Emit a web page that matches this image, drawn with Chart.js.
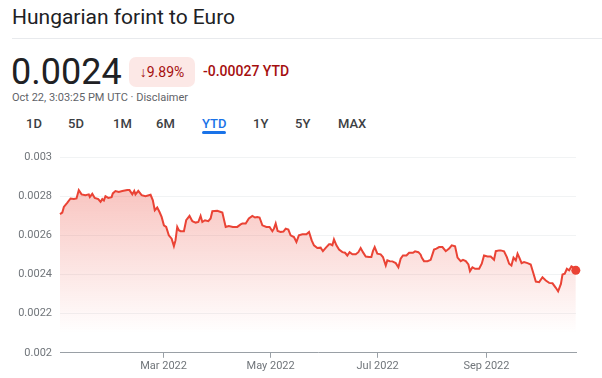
<!DOCTYPE html>
<html>
<head>
<meta charset="utf-8">
<script src="https://cdn.jsdelivr.net/npm/chart.js@4/dist/chart.umd.min.js"></script>
<style>
  body { margin: 0; width: 602px; height: 378px; background: #fff; font-family: Roboto, Arial, sans-serif; position: relative; overflow: hidden; }
  #title { position: absolute; left: 12px; top: 5px; font-size: 21px; color: #202124; }
  #divider { position: absolute; left: 12px; top: 38px; width: 590px; height: 1px; background: #e8eaed; }
  #price { position: absolute; left: 11px; top: 51px; font-size: 36px; color: #202124; }
  #pill { position: absolute; left: 129px; top: 57px; width: 66px; height: 30px; border-radius: 7px; background: #fce8e6; color: #a50e0e; font-size: 14px; line-height: 30px; text-align: center; }
  #change { position: absolute; left: 203px; top: 63px; font-size: 14px; color: #a50e0e; font-weight: 500; }
  #stamp { position: absolute; left: 12px; top: 91px; font-size: 11px; color: #5f6368; }
  .tab { position: absolute; top: 116px; font-size: 13px; color: #3c4043; font-weight: 500; }
  .tab.on { color: #1a73e8; }
  #underline { position: absolute; left: 202px; top: 131px; width: 24px; height: 3px; border-radius: 2px; background: #1a73e8; }
  #wrap { position: absolute; left: 0; top: 140px; width: 602px; height: 238px; }
</style>
</head>
<body>
<div id="title">Hungarian forint to Euro</div>
<div id="divider"></div>
<div id="price">0.0024</div>
<div id="pill">&#8595;9.89%</div>
<div id="change">-0.00027 YTD</div>
<div id="stamp">Oct 22, 3:03:25 PM UTC · Disclaimer</div>
<div id="tabs"></div>
<div id="underline"></div>
<div id="wrap"><canvas id="rateChart"></canvas></div>
<script>
//COLORS
var lineRed = "#ea4335";
var labelGray = "#70757a";
var gridGray = "#f1f3f4";
var axisGray = "#9aa0a6";

// range buttons
var tabNames = ["1D", "5D", "1M", "6M", "YTD", "1Y", "5Y", "MAX"];
var tabLeft = [26, 68, 113, 156, 202, 253, 295, 338];
for (var t = 0; t < tabNames.length; t++) {
  var tab = document.createElement("div");
  tab.className = tabNames[t] == "YTD" ? "tab on" : "tab";
  tab.style.left = tabLeft[t] + "px";
  tab.textContent = tabNames[t];
  document.getElementById("tabs").appendChild(tab);
}

// days since 1 Jan 2022
var days = [0, 1.3, 2.2, 4.1, 6, 7.9, 9.4, 10.7, 12.3, 14.5, 16.4, 17, 18.4, 19.8, 21.8, 23.1, 24.1, 25, 25.9, 27.5,
  29.4, 30.1, 31.6, 33.5, 35.5, 38.3, 39.6, 41.2, 42.3, 43, 44.6, 46.5, 48.7, 51.6, 52.9, 54, 55.4, 56.7, 57.9, 59.2,
  60.5, 62, 63.6, 64.9, 65.8, 66.8, 67.7, 68.7, 70.6, 71.9, 73.8, 75.4, 77.3, 78.8, 80.1, 81.1, 82.6, 84.5, 85.8, 86.8,
  89.6, 92.5, 94.4, 96.2, 98.5, 101, 102.9, 103.9, 105.8, 107.6, 109.6, 111.1, 112.4, 113.7, 115.3, 117.6, 119.4, 121, 121.9, 122.9,
  124, 125.7, 127.3, 128.6, 130.1, 131.4, 133.3, 134.7, 136.1, 138.1, 140.4, 141.9, 143.4, 144.7, 146.6, 148.5, 149.8, 151.4, 153.3, 154.2,
  155.2, 156.1, 157.5, 159, 160.9, 162.4, 163.7, 165, 166.6, 168.5, 170, 171.3, 172.6, 174.2, 176.1, 177.4, 178.3, 179.3, 180.8, 182.7,
  184, 185.6, 186.5, 187.9, 189.4, 191.3, 192.8, 194.1, 195.4, 197.4, 198.9, 201.1, 202.3, 204.2, 205.5, 206.1, 207.4, 209.4, 211.2, 213.1,
  214.5, 216, 217.9, 219.8, 221.7, 223.2, 225.1, 226.5, 228.3, 229.6, 231.2, 232.7, 233.6, 235, 236.5, 238.8, 240.3, 241.6, 243.6, 245.4,
  247.3, 248.3, 250.2, 251.1, 253, 254.6, 255.9, 257.2, 258.4, 259.7, 260.7, 261.6, 263, 264.4, 266.4, 268.2, 269.8, 271.1, 273, 274.9,
  276.8, 278.7, 280.6, 282.5, 283.8, 285.4, 286.3, 287.6, 288.8, 290.1, 291.4, 292.9, 293.9];

// HUF -> EUR rate
var rates = [0.002708, 0.002716, 0.002745, 0.002766, 0.002788, 0.002785, 0.002788, 0.002831, 0.002809, 0.002805,
  0.002809, 0.002796, 0.002812, 0.002791, 0.002785, 0.002771, 0.002785, 0.002778, 0.002800, 0.002791,
  0.002795, 0.002814, 0.002826, 0.002822, 0.002826, 0.002831, 0.002831, 0.002809, 0.002827, 0.002809,
  0.002827, 0.002805, 0.002800, 0.002807, 0.002779, 0.002728, 0.002742, 0.002719, 0.002694, 0.002651,
  0.002643, 0.002600, 0.002583, 0.002545, 0.002574, 0.002643, 0.002626, 0.002621, 0.002621, 0.002677,
  0.002699, 0.002672, 0.002665, 0.002668, 0.002699, 0.002668, 0.002677, 0.002672, 0.002686, 0.002723,
  0.002725, 0.002716, 0.002643, 0.002648, 0.002643, 0.002643, 0.002656, 0.002660, 0.002660, 0.002686,
  0.002699, 0.002691, 0.002694, 0.002691, 0.002651, 0.002643, 0.002643, 0.002621, 0.002634, 0.002660,
  0.002622, 0.002617, 0.002619, 0.002634, 0.002629, 0.002600, 0.002591, 0.002566, 0.002600, 0.002605,
  0.002605, 0.002617, 0.002574, 0.002549, 0.002535, 0.002537, 0.002519, 0.002536, 0.002554, 0.002554,
  0.002549, 0.002579, 0.002549, 0.002527, 0.002514, 0.002511, 0.002497, 0.002514, 0.002503, 0.002503,
  0.002514, 0.002535, 0.002514, 0.002492, 0.002489, 0.002489, 0.002519, 0.002540, 0.002506, 0.002503,
  0.002489, 0.002446, 0.002472, 0.002468, 0.002467, 0.002458, 0.002437, 0.002481, 0.002497, 0.002497,
  0.002511, 0.002511, 0.002518, 0.002514, 0.002501, 0.002486, 0.002468, 0.002468, 0.002475, 0.002527,
  0.002532, 0.002540, 0.002540, 0.002519, 0.002532, 0.002549, 0.002544, 0.002486, 0.002468, 0.002475,
  0.002468, 0.002451, 0.002417, 0.002437, 0.002429, 0.002429, 0.002455, 0.002497, 0.002492, 0.002492,
  0.002475, 0.002519, 0.002523, 0.002523, 0.002518, 0.002489, 0.002455, 0.002446, 0.002486, 0.002472,
  0.002506, 0.002489, 0.002458, 0.002463, 0.002458, 0.002451, 0.002404, 0.002364, 0.002361, 0.002386,
  0.002369, 0.002357, 0.002355, 0.002332, 0.002314, 0.002352, 0.002400, 0.002404, 0.002429, 0.002421,
  0.002441, 0.002434, 0.002421];

// axis ticks
var yTicks = [0.002, 0.0022, 0.0024, 0.0026, 0.0028, 0.003];
var xTickDays = [59, 120, 181, 243];
var xTickLabels = ["Mar 2022", "May 2022", "Jul 2022", "Sep 2022"];

var points = [];
for (var i = 0; i < days.length; i++) {
  points.push({ x: days[i], y: rates[i] });
}
var last = points.length - 1;

const config = {
  type: "line",
  data: {
    datasets: [{
      data: points,
      borderColor: lineRed,
      borderWidth: 2,
      tension: 0,
      clip: false,
      fill: "start",
      backgroundColor: function (ctx) {
        var chart = ctx.chart;
        var area = chart.chartArea;
        if (!area) return "rgba(234,67,53,0.2)";
        var yBottom = chart.scales.y.getPixelForValue(0.0021);
        var g = chart.ctx.createLinearGradient(0, area.top, 0, yBottom);
        g.addColorStop(0, "rgba(234,67,53,0.38)");
        g.addColorStop(1, "rgba(234,67,53,0)");
        return g;
      },
      pointRadius: function (ctx) { return ctx.dataIndex === last ? 4.5 : 0; },
      pointBackgroundColor: lineRed,
      pointBorderWidth: 0,
      pointHoverRadius: 0
    }]
  },
  options: {
    responsive: true,
    maintainAspectRatio: false,
    animation: false,
    layout: { padding: { top: 17, right: 26, left: 0, bottom: 3 } },
    plugins: { legend: { display: false }, tooltip: { enabled: false } },
    scales: {
      x: {
        type: "linear",
        min: 0,
        max: 294,
        afterBuildTicks: function (axis) {
          axis.ticks = xTickDays.map(function (d) { return { value: d }; });
        },
        ticks: {
          color: labelGray,
          font: { family: "Roboto", size: 11 },
          padding: 2,
          maxRotation: 0,
          autoSkip: false,
          callback: function (v) { return xTickLabels[xTickDays.indexOf(v)]; }
        },
        grid: { drawOnChartArea: false, drawTicks: true, tickLength: 5, color: axisGray },
        border: { display: true, color: axisGray, width: 1 }
      },
      y: {
        min: 0.002,
        max: 0.003,
        afterBuildTicks: function (axis) {
          axis.ticks = yTicks.map(function (v) { return { value: v }; });
        },
        afterFit: function (axis) { axis.width = 60; },
        ticks: {
          color: labelGray,
          font: { family: "Roboto", size: 11 },
          padding: 8,
          callback: function (v) { return String(Number(v.toFixed(4))); }
        },
        grid: { color: gridGray, drawTicks: false },
        border: { display: false }
      }
    }
  }
};

var rateChart = new Chart(document.getElementById("rateChart"), config);
</script>
</body>
</html>
